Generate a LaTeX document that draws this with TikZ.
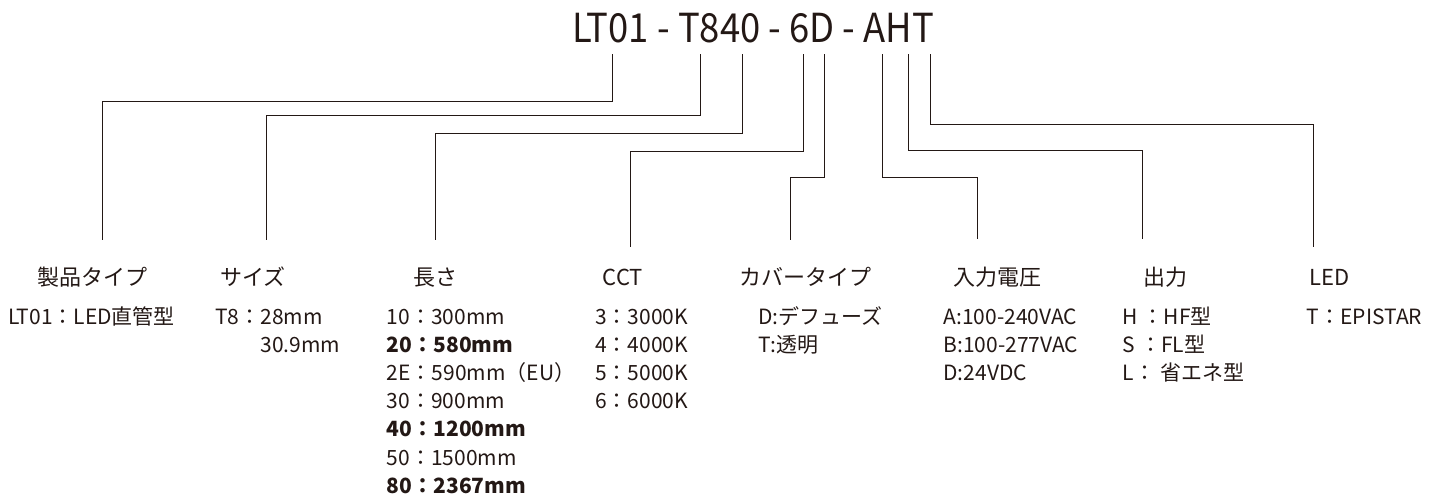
\documentclass[tikz,border=0pt]{standalone}
\usepackage{fontspec}
\setmainfont{Noto Sans CJK JP}
\definecolor{CodeInk}{HTML}{231815}
\tikzset{
    codetitle/.style={
        anchor=base,
        inner sep=0pt,
        text=CodeInk,
        font=\fontsize{40}{48}\selectfont
    },
    header/.style={
        anchor=base,
        inner sep=0pt,
        text=CodeInk,
        font=\fontsize{22}{26}\selectfont
    },
    % anchored at the baseline of the last line
    codelist/.style={
        anchor=base west,
        align=left,
        inner sep=0pt,
        text=CodeInk,
        font=\fontsize{21}{28.2}\selectfont
    },
    lead/.style={
        draw=CodeInk,
        line width=1pt
    }
}

\begin{document}
\begin{tikzpicture}[x=1pt, y=-1pt]
        \useasboundingbox (0,0) rectangle (1432,499);

        % Product code
        \node[codetitle] (code) at (753,42.7) {\scalebox{0.91}[1]{LT01 - T840 - 6D - AHT}};

        % Taps under the code
        \coordinate (t1) at (612.7,54);
        \coordinate (t2) at (700.5,54);
        \coordinate (t3) at (742.5,54);
        \coordinate (t4) at (803,54);
        \coordinate (t5) at (824.3,54);
        \coordinate (t6) at (882.7,54);
        \coordinate (t7) at (908.3,54);
        \coordinate (t8) at (930,54);

        % Field headers
        \node[header] (h1) at (92.5,285) {製品タイプ};
        \node[header] (h2) at (253,285) {サイズ};
        \node[header] (h3) at (435,285) {長さ};
        \node[header] (h4) at (623,285) {CCT};
        \node[header] (h5) at (805,285) {カバータイプ};
        \node[header] (h6) at (997.5,285) {入力電圧};
        \node[header] (h7) at (1165.5,285) {出力};
        \node[header] (h8) at (1330,285) {LED};

        % Line ends above the headers
        \coordinate (b1) at (102.5,240);
        \coordinate (b2) at (266,240);
        \coordinate (b3) at (435,240);
        \coordinate (b4) at (630.7,246.7);
        \coordinate (b5) at (790.8,240);
        \coordinate (b6) at (977.3,239.3);
        \coordinate (b7) at (1142.7,239.3);
        \coordinate (b8) at (1313.3,246.7);

        % Leaders
        \draw[lead] (t1) |- (b1 |- 0,101.7) -- (b1);
        \draw[lead] (t2) |- (b2 |- 0,115.7) -- (b2);
        \draw[lead] (t3) |- (b3 |- 0,133.5) -- (b3);
        \draw[lead] (t4) |- (b4 |- 0,151) -- (b4);
        \draw[lead] (t5) |- (b5 |- 0,177.5) -- (b5);
        \draw[lead] (t6) |- (b6 |- 0,177.3) -- (b6);
        \draw[lead] (t7) |- (b7 |- 0,150.7) -- (b7);
        \draw[lead] (t8) |- (b8 |- 0,124.7) -- (b8);

        % Values
        \node[codelist] (v1) at (8,324) {LT01：LED直管型};
        \node[codelist] (v2) at (215,352.2) {T8：28mm\\\phantom{T8：}30.9mm};
        \node[codelist] (v3) at (386.7,493.2) {10：300mm\\\textbf{20：580mm}\\2E：590mm（EU）\\30：900mm\\\textbf{40：1200mm}\\50：1500mm\\\textbf{80：2367mm}};
        \node[codelist] (v4) at (595,408.6) {3：3000K\\4：4000K\\5：5000K\\6：6000K};
        \node[codelist] (v5) at (758.3,352.2) {D:デフューズ\\T:透明};
        \node[codelist] (v6) at (943.3,380.4) {A:100-240VAC\\B:100-277VAC\\D:24VDC};
        \node[codelist] (v7) at (1122.7,380.4) {H ：HF型\\S ：FL型\\L：\ 省エネ型};
        \node[codelist] (v8) at (1306.7,324) {T：EPISTAR};
\end{tikzpicture}
\end{document}
